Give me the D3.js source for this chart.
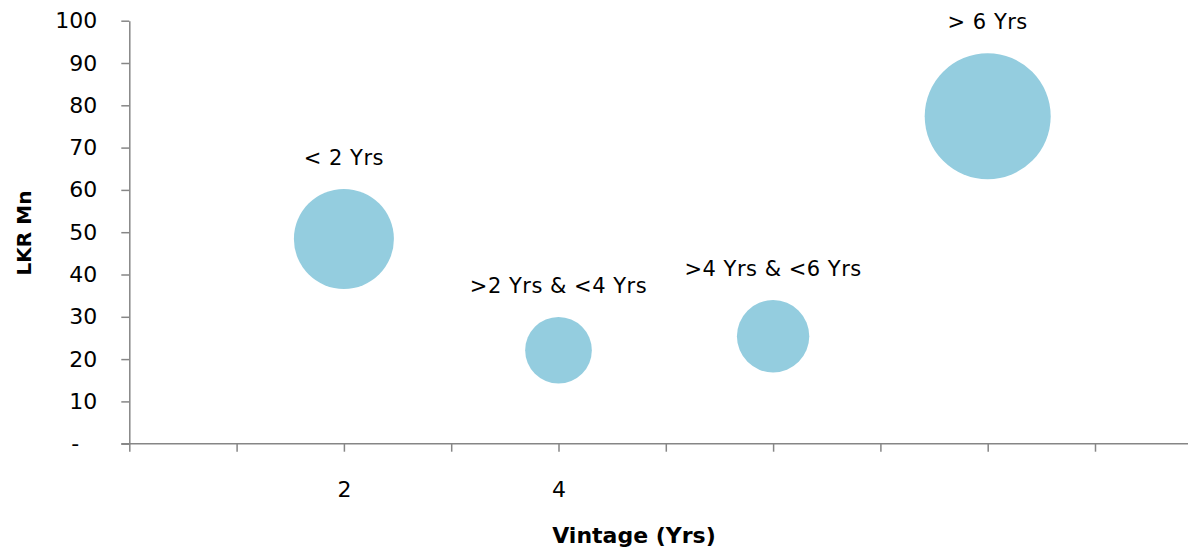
<!DOCTYPE html>
<html>
<head>
<meta charset="utf-8">
<script src="https://cdn.jsdelivr.net/npm/d3@7"></script>
<style>
  html, body { margin: 0; padding: 0; background: #ffffff; }
  svg { display: block; font-family: "DejaVu Sans", Verdana, sans-serif; }
</style>
</head>
<body>
<svg id="chart" width="1188" height="553"></svg>
<script>
// Vintage buckets, their average vintage (years), value (LKR Mn) and relative size
const categories = ["< 2 Yrs", ">2 Yrs & <4 Yrs", ">4 Yrs & <6 Yrs", "> 6 Yrs"];
const vintageYrs = [2, 4, 6, 8];
const valueLkrMn = [48.4, 22.1, 25.4, 77.4];
const bubbleSize = [63, 28, 33, 100];

const yTickValues = [0, 10, 20, 30, 40, 50, 60, 70, 80, 90, 100];
const yTickLabels = ["-", "10", "20", "30", "40", "50", "60", "70", "80", "90", "100"];
const xTickValues = [0, 1, 2, 3, 4, 5, 6, 7, 8, 9, 10];
const xTickLabels = ["", "", "2", "", "4", "", "", "", "", "", ""];

const svg = d3.select("#chart");
const axisColor = "#868686";
const bubbleColor = "#94cddf";

const x = d3.scaleLinear().domain([0, 10]).range([129.3, 1202.3]);
const y = d3.scaleLinear().domain([0, 100]).range([443.7, 20.7]);
const r = d3.scaleSqrt().domain([0, 100]).range([0, 63]);

// Y axis
const yAxis = svg.append("g")
  .attr("transform", `translate(${x(0)},0)`)
  .call(d3.axisLeft(y)
    .tickValues(yTickValues)
    .tickFormat((d, i) => yTickLabels[i])
    .tickSize(8)
    .tickSizeOuter(0)
    .tickPadding(24));
yAxis.selectAll("path, line").attr("stroke", axisColor).attr("stroke-width", 1.5);
yAxis.selectAll("text")
  .attr("font-size", 22)
  .attr("font-family", "DejaVu Sans, Verdana, sans-serif")
  .attr("fill", "#000")
  .attr("dx", (d) => d === 0 ? -18 : 0);

// X axis
const xAxis = svg.append("g")
  .attr("transform", `translate(0,${y(0)})`)
  .call(d3.axisBottom(x)
    .tickValues(xTickValues)
    .tickFormat((d, i) => xTickLabels[i])
    .tickSize(8)
    .tickSizeOuter(0)
    .tickPadding(30));
xAxis.select(".domain").attr("d", `M${x(0) - 8},0H1188`);
xAxis.selectAll("path, line").attr("stroke", axisColor).attr("stroke-width", 1.5);
xAxis.selectAll("text")
  .attr("font-size", 22)
  .attr("font-family", "DejaVu Sans, Verdana, sans-serif")
  .attr("fill", "#000");

// Bubbles
const data = categories.map((c, i) => ({
  name: c, vx: vintageYrs[i], vy: valueLkrMn[i], size: bubbleSize[i]
}));

svg.append("g").selectAll("circle")
  .data(data)
  .join("circle")
  .attr("cx", d => x(d.vx))
  .attr("cy", d => y(d.vy))
  .attr("r", d => r(d.size))
  .attr("fill", bubbleColor);

// Bubble labels
svg.append("g").selectAll("text")
  .data(data)
  .join("text")
  .attr("x", d => x(d.vx))
  .attr("y", d => y(d.vy) - r(d.size) - 24)
  .attr("text-anchor", "middle")
  .attr("font-size", 21)
  .attr("letter-spacing", "0.5px")
  .attr("fill", "#000")
  .text(d => d.name);

// Axis titles
svg.append("text")
  .attr("transform", "translate(31,233) rotate(-90)")
  .attr("text-anchor", "middle")
  .attr("font-size", 20)
  .attr("font-weight", "bold")
  .attr("fill", "#000")
  .text("LKR Mn");

svg.append("text")
  .attr("x", 634)
  .attr("y", 543)
  .attr("text-anchor", "middle")
  .attr("font-size", 22)
  .attr("font-weight", "bold")
  .attr("fill", "#000")
  .text("Vintage (Yrs)");
</script>
</body>
</html>
